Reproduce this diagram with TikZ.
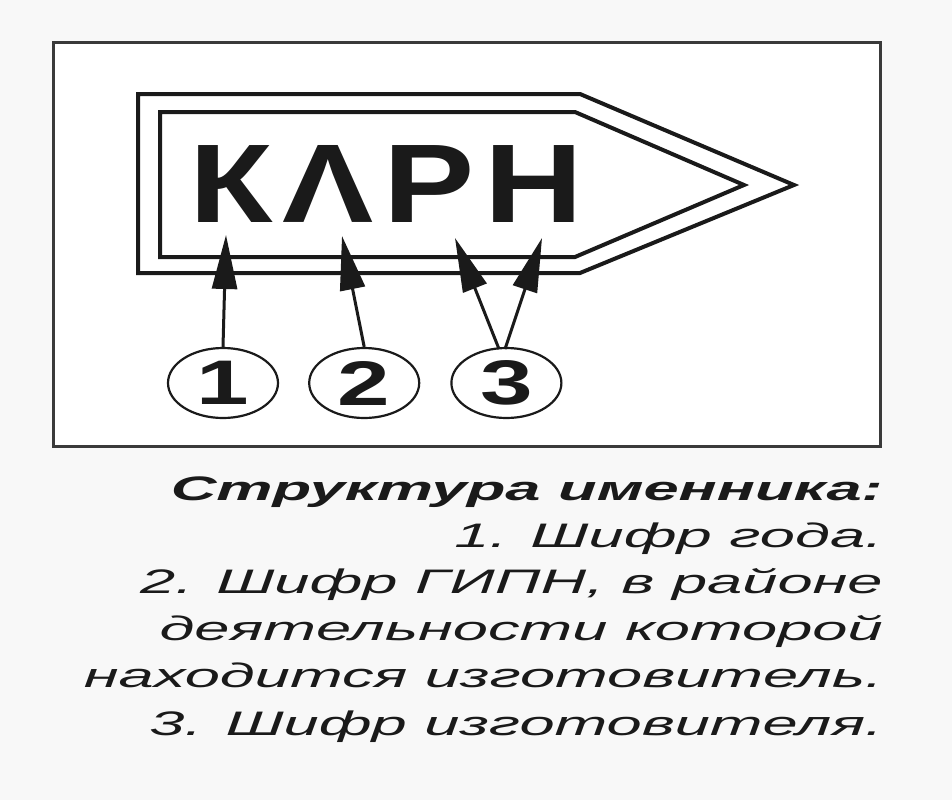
\documentclass[tikz,border=0pt]{standalone}
\usepackage{fontspec}
\setmainfont{Liberation Sans}
\newfontfamily\wideface[FakeStretch=1.86]{Liberation Sans}
\newfontfamily\digitface[FakeStretch=1.5]{Liberation Sans}
\usepackage{tikz}
\usetikzlibrary{arrows.meta, shapes.geometric, positioning}
\definecolor{ink}{RGB}{26,26,26}
\definecolor{paper}{RGB}{248,248,248}
\definecolor{framegray}{RGB}{58,58,58}

\begin{document}
\begin{tikzpicture}[x=1pt, y=-1pt, >={Triangle[length=54pt,width=25pt]},
    numcirc/.style={ellipse, draw=ink, line width=2.2pt, minimum width=110pt, minimum height=70pt,
        inner sep=0pt, text=ink, font=\digitface\bfseries\fontsize{63}{63}\selectfont},
    caption/.style={anchor=base east, inner sep=0pt, text=ink, font=\wideface\itshape\fontsize{34}{40}\selectfont}]
        \fill[paper] (0,0) rectangle (952,800);
        \useasboundingbox (0,0) rectangle (952,800);
        \draw[framegray, fill=white, line width=3pt] (53,43) rectangle (880,446);
        % hallmark outline
        \draw[ink, line width=4pt] (138,94) -- (580,94) -- (794,185) -- (580,273) -- (138,273) -- cycle;
        \draw[ink, line width=4pt] (160,112) -- (575,112) -- (744,185) -- (575,257) -- (160,257) -- cycle;
        \node[text=ink, inner sep=0pt] (code) at (386.5,183.5)
            {\resizebox{393pt}{77pt}{\bfseries К\kern0.07emΛ\kern0.07emР\kern0.07emН}};
        \node[numcirc] (n1) at (223,383) {1};
        \node[numcirc] (n2) [right=29pt of n1] {2};
        \node[numcirc] (n3) [right=30pt of n2] {3};
        \coordinate (t1) at (226,235);
        \coordinate (t2) at (342,236);
        \coordinate (t3) at (455,238);
        \coordinate (t4) at (542,238);
        \coordinate (f3) at (499,349);
        \coordinate (f4) at (505,349);
        \path[->, ink, line width=3pt]
        (n1.north) edge (t1)
        (n2.north) edge (t2)
        (f3) edge (t3)
        (f4) edge (t4)
        ;
        % legend
        \node[caption] (l1) at (883,500) {\bfseries Структура именника:};
        \node[caption] (l2) at (883,547) {1. Шифр года.};
        \node[caption] (l3) at (883,593) {2. Шифр ГИПН, в районе};
        \node[caption] (l4) at (883,640) {деятельности которой};
        \node[caption] (l5) at (883,687) {находится изготовитель.};
        \node[caption] (l6) at (883,735) {3. Шифр изготовителя.};
    \end{tikzpicture}
\end{document}
